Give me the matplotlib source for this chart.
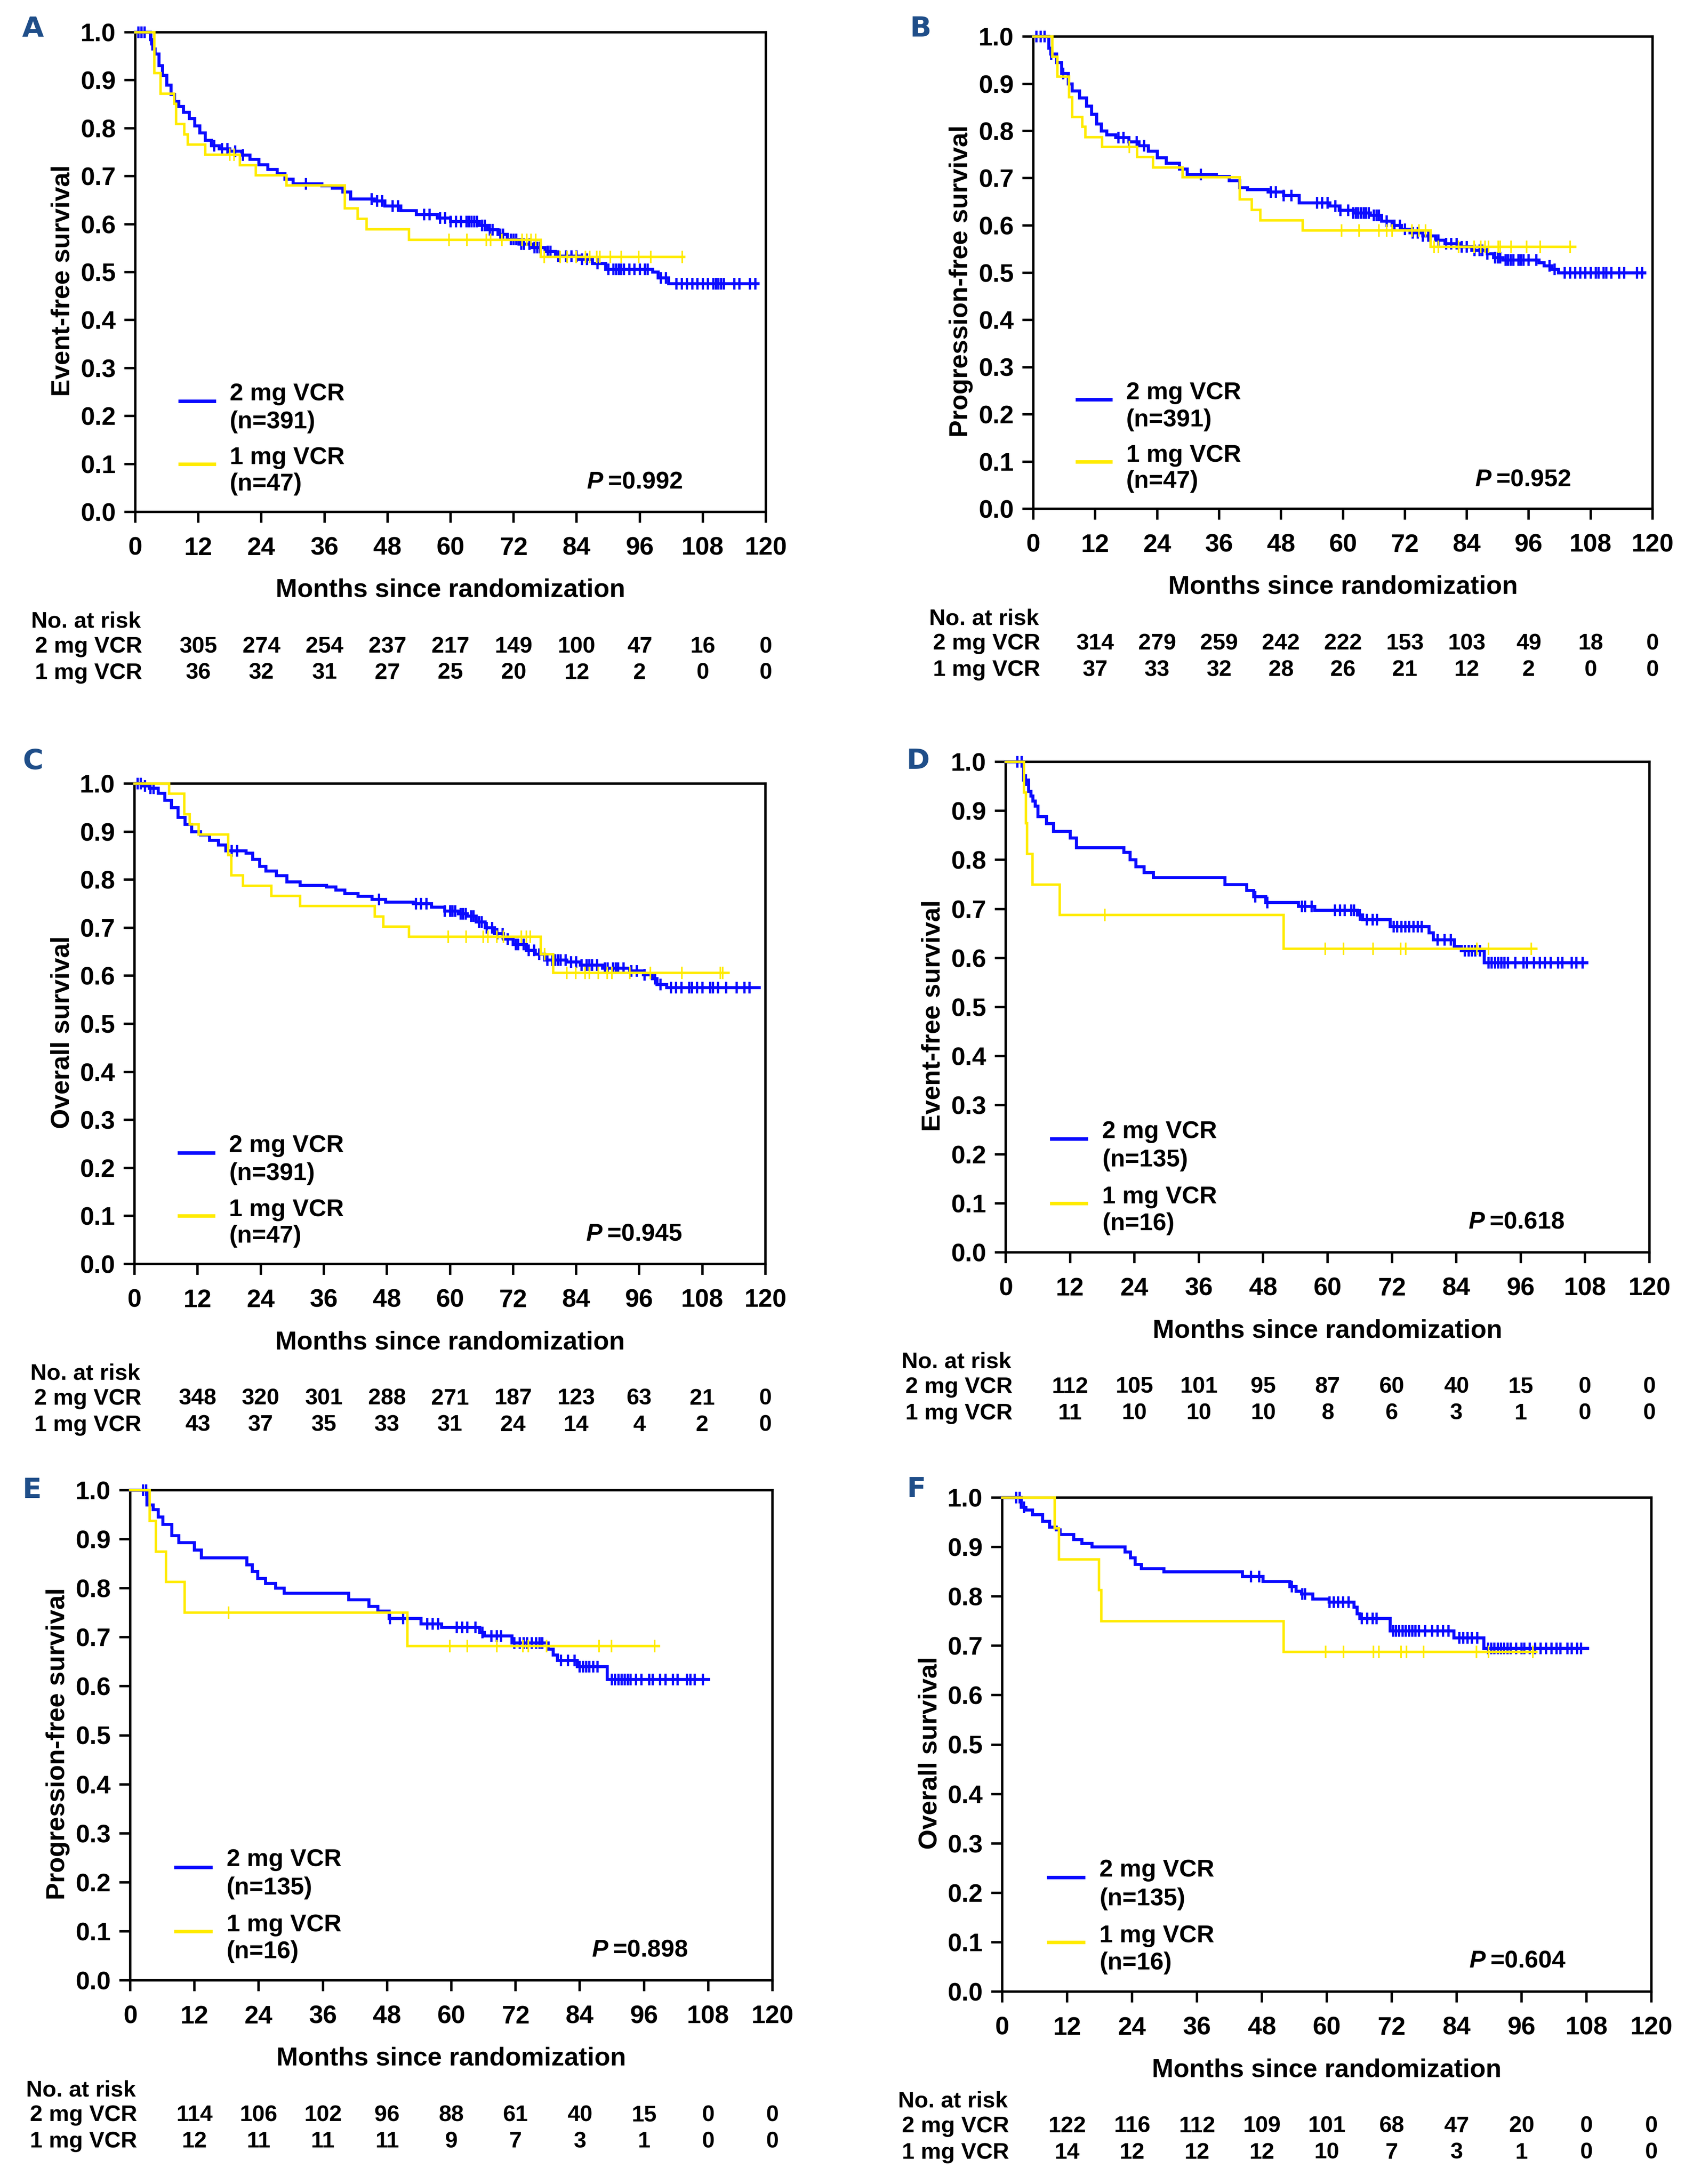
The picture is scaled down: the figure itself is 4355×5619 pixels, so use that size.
import numpy as np
import matplotlib
matplotlib.use("Agg")
import matplotlib.pyplot as plt
from matplotlib.transforms import blended_transform_factory

plt.rcParams['font.family'] = ['Liberation Sans', 'DejaVu Sans']
plt.rcParams['font.weight'] = 'bold'
plt.rcParams['mathtext.fontset'] = 'custom'
plt.rcParams['mathtext.it'] = 'Liberation Sans:bold:italic'
plt.rcParams['mathtext.rm'] = 'Liberation Sans:bold'

# ---------------- data ----------------
risk_times = [12, 24, 36, 48, 60, 72, 84, 96, 108, 120]

# Panel A : event-free survival, all patients
A_blue_t = [0, 2.9, 3.3, 3.8, 4.5, 5.2, 6.0, 6.8, 7.5, 8.3, 9.2, 10.3, 11.3, 12.3, 13.3, 14.5, 16.0, 18.0,
            20.3, 21.8, 23.5, 25.2, 27.0, 28.5, 30.0, 35.5, 37.5, 39.5, 41.0, 45.5, 47.5, 50.5, 53.5, 57.5,
            60.0, 65.5, 67.0, 69.0, 70.8, 73.0, 75.5, 78.0, 80.0, 84.5, 87.0, 89.5, 98.5, 99.5, 101.5]
A_blue_s = [1.0, 0.985, 0.965, 0.955, 0.93, 0.91, 0.89, 0.87, 0.856, 0.845, 0.833, 0.82, 0.805, 0.79, 0.775,
            0.763, 0.757, 0.752, 0.744, 0.735, 0.724, 0.714, 0.705, 0.694, 0.684, 0.68, 0.675, 0.667, 0.652,
            0.648, 0.638, 0.628, 0.62, 0.613, 0.605, 0.597, 0.588, 0.579, 0.568, 0.558, 0.551, 0.543, 0.533,
            0.527, 0.518, 0.506, 0.5, 0.488, 0.476]
A_blue_end = 118.5
A_blue_cens = [0.6, 1.2, 1.8, 3.0, 3.6, 15, 16.5, 17.5, 19, 20.5, 32.5, 45, 46, 47, 49, 50, 55, 56, 58, 59, 60,
               61, 62, 63, 63.5, 64, 64.5, 65, 66, 66.5, 67.5, 68, 69.5, 70, 71.5, 72, 72.5, 73.5, 74, 75, 76,
               76.5, 77, 78.5, 79, 80.5, 82, 83, 84, 85, 86, 88, 90, 91, 91.5, 92, 92.5, 93, 94, 95, 96, 97,
               97.5, 100, 101, 103, 104, 105, 106, 107, 108, 109, 110, 110.5, 111, 111.5, 112, 114, 115, 117, 118]
A_yel_t = [0, 3.6, 4.8, 7.4, 7.8, 9.3, 10.0, 13.3, 19.9, 22.9, 28.8, 39.9, 42.3, 44.0, 52.1, 77.2]
A_yel_s = [1.0, 0.915, 0.872, 0.851, 0.809, 0.787, 0.766, 0.745, 0.723, 0.702, 0.681, 0.633, 0.611, 0.589,
           0.567, 0.532]
A_yel_end = 104.5
A_yel_cens = [18.0, 18.8, 59.7, 63.1, 66.8, 67.6, 69.8, 73.6, 74.5, 75.3, 76.2, 77.8, 80.9, 82.2, 83.9, 85.7,
              86.5, 87.8, 88.4, 90.4, 92.5, 95.8, 98.1, 104.1]
A_risk_2mg = [305, 274, 254, 237, 217, 149, 100, 47, 16, 0]
A_risk_1mg = [36, 32, 31, 27, 25, 20, 12, 2, 0, 0]

# Panel B : progression-free survival, all patients
B_blue_t = [0, 3.0, 3.4, 4.5, 5.5, 6.8, 7.5, 9.0, 10.3, 11.3, 12.3, 13.2, 14.2, 16.0, 18.5, 20.5, 22.3, 24.0,
            25.8, 28.3, 29.8, 35.5, 38.0, 40.0, 41.5, 45.5, 48.5, 51.5, 57.5, 59.3, 62.0, 65.3, 67.5, 69.5,
            71.3, 73.0, 75.5, 78.0, 79.8, 82.8, 85.0, 88.0, 89.2, 91.0, 98.0, 99.0, 100.5, 101.8]
B_blue_s = [1.0, 0.975, 0.963, 0.945, 0.922, 0.9, 0.885, 0.87, 0.853, 0.835, 0.815, 0.8, 0.792, 0.786, 0.777,
            0.769, 0.757, 0.743, 0.732, 0.719, 0.708, 0.704, 0.695, 0.68, 0.676, 0.671, 0.663, 0.648, 0.641,
            0.632, 0.626, 0.621, 0.609, 0.6, 0.592, 0.584, 0.578, 0.569, 0.561, 0.555, 0.547, 0.54, 0.532,
            0.527, 0.521, 0.514, 0.507, 0.5]
B_blue_end = 118.5
B_blue_cens = [0.6, 1.4, 2.2, 3.5, 5.8, 16.5, 17.5, 18.5, 20, 21.5, 32.5, 46, 47, 48.5, 50, 55, 56, 57, 58.5,
               59.5, 61, 62, 62.5, 63, 63.5, 64, 64.5, 65, 66, 66.5, 67, 68.5, 70, 71, 72, 73.5, 74.5, 75.5,
               76.5, 77, 78.5, 80, 81, 82, 83, 84, 85.5, 86.5, 87, 88, 89.5, 90, 90.5, 91.5, 92, 92.5, 93, 94,
               94.5, 95, 96, 97.5, 100, 101, 103, 104, 105, 106, 107, 108, 109, 109.5, 110.5, 111, 112, 113.5,
               114.5, 117, 118]
B_yel_t = [0, 3.7, 4.7, 6.9, 7.5, 9.5, 10.1, 13.3, 20.1, 23.2, 28.9, 40.0, 42.3, 44.0, 52.2, 77.0]
B_yel_s = [1.0, 0.957, 0.915, 0.872, 0.83, 0.809, 0.787, 0.766, 0.745, 0.723, 0.702, 0.655, 0.633, 0.611,
           0.589, 0.555]
B_yel_end = 105.0
B_yel_cens = [18.6, 59.7, 63.1, 67.0, 68.5, 69.5, 73.4, 74.7, 76.0, 77.7, 78.5, 82.4, 85.4, 86.7, 87.5, 88.2,
              90.1, 90.5, 92.6, 95.6, 98.2, 104.0]
B_risk_2mg = [314, 279, 259, 242, 222, 153, 103, 49, 18, 0]
B_risk_1mg = [37, 33, 32, 28, 26, 21, 12, 2, 0, 0]

# Panel C : overall survival, all patients
C_blue_t = [0, 1.5, 2.8, 4.5, 5.8, 7.0, 8.3, 9.6, 10.9, 12.6, 14.3, 16.0, 17.4, 21.2, 22.5, 23.8, 25.0, 27.0,
            29.0, 31.5, 36.5, 38.3, 40.0, 42.5, 45.2, 47.8, 53.0, 56.5, 59.0, 61.6, 63.3, 65.0, 66.7, 68.5,
            70.2, 72.0, 74.5, 76.2, 78.0, 82.2, 84.8, 89.0, 94.2, 96.8, 98.5, 99.4, 101.2]
C_blue_s = [1.0, 0.995, 0.99, 0.98, 0.965, 0.95, 0.93, 0.915, 0.9, 0.893, 0.882, 0.872, 0.86, 0.855, 0.842,
            0.828, 0.818, 0.808, 0.795, 0.788, 0.785, 0.778, 0.771, 0.765, 0.759, 0.753, 0.75, 0.743, 0.735,
            0.729, 0.724, 0.712, 0.7, 0.688, 0.676, 0.665, 0.653, 0.645, 0.633, 0.629, 0.622, 0.616, 0.61,
            0.602, 0.594, 0.582, 0.575]
C_blue_end = 118.8
C_blue_cens = [0.6, 1.2, 2.0, 3.0, 3.6, 18.5, 19.5, 46.5, 53.5, 54.5, 55.5, 59, 60, 60.5, 61, 62, 62.5, 63, 64,
               64.5, 65.5, 66, 67, 68, 69, 70, 71, 72.5, 73, 74, 75, 76, 77, 78.5, 79.5, 80, 80.5, 81, 82, 83,
               84, 85, 86, 86.5, 87, 88, 89.5, 90, 91, 91.5, 92, 93, 94.5, 95.5, 97, 99, 100, 102, 103, 104,
               105.5, 106, 107, 108, 109.5, 110, 111, 112.5, 114.5, 116, 117]
C_yel_t = [0, 6.6, 9.5, 10.5, 12.2, 17.8, 18.4, 20.6, 26.0, 31.5, 45.7, 47.3, 52.2, 77.3, 79.6]
C_yel_s = [1.0, 0.979, 0.936, 0.915, 0.894, 0.851, 0.809, 0.787, 0.766, 0.745, 0.723, 0.702, 0.681, 0.645,
           0.606]
C_yel_end = 113.0
C_yel_cens = [59.7, 63.1, 66.3, 67.2, 68.9, 70.2, 73.6, 74.5, 75.3, 78.0, 82.2, 83.9, 85.7, 86.5, 88.2, 89.9,
              90.8, 94.2, 98.1, 104.1, 111.4, 111.9]
C_risk_2mg = [348, 320, 301, 288, 271, 187, 123, 63, 21, 0]
C_risk_1mg = [43, 37, 35, 33, 31, 24, 14, 4, 2, 0]

# Panel D : event-free survival, subgroup
D_blue_t = [0, 3.3, 4.3, 4.7, 5.1, 5.5, 6.0, 7.6, 8.9, 12.0, 13.2, 22.0, 23.2, 24.3, 25.8, 27.5, 40.9, 44.9,
            46.2, 48.5, 54.6, 57.6, 65.6, 66.5, 71.7, 78.9, 79.7, 83.6, 84.9, 89.2]
D_blue_s = [1.0, 0.963, 0.94, 0.93, 0.92, 0.91, 0.888, 0.874, 0.858, 0.845, 0.825, 0.815, 0.8, 0.786, 0.774,
            0.764, 0.75, 0.738, 0.725, 0.713, 0.705, 0.697, 0.688, 0.678, 0.664, 0.651, 0.637, 0.624, 0.615,
            0.59]
D_blue_end = 108.3
D_blue_cens = [2.2, 3.0, 3.8, 46.5, 48.8, 55.2, 55.8, 57.0, 61.4, 62.3, 63.2, 64.4, 64.9, 66.0, 67.3, 68.4,
               69.2, 72.3, 73.0, 73.8, 74.5, 75.2, 76.0, 76.8, 77.5, 80.5, 81.8, 83.0, 85.6, 86.3, 86.9, 87.5,
               88.4, 90, 90.6, 91.2, 91.8, 92.4, 93, 93.6, 95.0, 96.5, 97.2, 98.5, 99.6, 100.5, 101.6, 103.0,
               103.8, 105.5, 106.4, 107.5]
D_yel_t = [0, 3.4, 3.8, 4.0, 5.0, 10.1, 51.8]
D_yel_s = [1.0, 0.9375, 0.875, 0.8125, 0.75, 0.6875, 0.619]
D_yel_end = 98.9
D_yel_cens = [18.5, 59.6, 63.0, 68.5, 73.6, 74.6, 87.8, 90.0, 98.0]
D_risk_2mg = [112, 105, 101, 95, 87, 60, 40, 15, 0, 0]
D_risk_1mg = [11, 10, 10, 10, 8, 6, 3, 1, 0, 0]

# Panel E : progression-free survival, subgroup
E_blue_t = [0, 3.1, 4.3, 5.2, 6.1, 7.8, 9.1, 12.0, 13.3, 21.8, 22.8, 23.8, 25.3, 27.2, 28.8, 40.8, 44.6, 46.3,
            48.4, 54.3, 58.2, 65.3, 66.2, 71.3, 78.1, 79.0, 79.8, 83.5, 89.1]
E_blue_s = [1.0, 0.97, 0.96, 0.945, 0.93, 0.907, 0.893, 0.878, 0.862, 0.848, 0.834, 0.82, 0.81, 0.8, 0.79,
            0.776, 0.763, 0.753, 0.738, 0.727, 0.72, 0.71, 0.703, 0.688, 0.676, 0.664, 0.653, 0.64, 0.614]
E_blue_end = 108.1
E_blue_cens = [2.4, 3.0, 3.6, 48.5, 51.0, 55.5, 56.5, 57.5, 61, 62, 63, 64.5, 65.8, 67.5, 68.5, 69.3, 71.8,
               72.8, 73.5, 74.2, 75, 75.8, 76.5, 77.0, 80.5, 81.8, 83.0, 84.0, 84.6, 85.2, 85.8, 86.5, 87.3,
               90, 90.6, 91.2, 91.8, 92.4, 93, 93.5, 94.5, 95.5, 97, 97.6, 99.0, 100.0, 101.4, 102.3, 104.0,
               104.7, 105.5, 107.0]
E_yel_t = [0, 3.6, 4.8, 6.7, 10.2, 51.8]
E_yel_s = [1.0, 0.9375, 0.875, 0.8125, 0.75, 0.682]
E_yel_end = 98.8
E_yel_cens = [18.4, 59.7, 63.0, 68.5, 73.4, 74.4, 77.8, 87.6, 89.9, 98.0]
E_risk_2mg = [114, 106, 102, 96, 88, 61, 40, 15, 0, 0]
E_risk_1mg = [12, 11, 11, 11, 9, 7, 3, 1, 0, 0]

# Panel F : overall survival, subgroup
F_blue_t = [0, 3.5, 4.4, 5.6, 7.5, 8.8, 10.0, 10.7, 13.2, 14.7, 16.6, 22.7, 23.7, 24.6, 25.7, 29.9, 44.4,
            48.2, 53.2, 54.3, 55.3, 57.4, 60.4, 65.0, 65.6, 66.1, 71.7, 83.5, 89.0]
F_blue_s = [1.0, 0.98, 0.975, 0.965, 0.952, 0.94, 0.935, 0.925, 0.915, 0.907, 0.9, 0.89, 0.878, 0.865, 0.856,
            0.85, 0.84, 0.83, 0.82, 0.81, 0.805, 0.795, 0.788, 0.778, 0.765, 0.755, 0.73, 0.716, 0.695]
F_blue_end = 108.2
F_blue_cens = [2.6, 3.2, 4.0, 46.0, 47.5, 53.5, 55.5, 56.0, 60.5, 61.3, 62.1, 63.0, 64.0, 66.5, 67.5, 68.5,
               69.2, 72.3, 72.8, 73.4, 74.0, 74.6, 75.2, 75.8, 76.4, 77.0, 78.2, 79.5, 80.5, 81.5, 82.5, 84.5,
               85.2, 86.0, 86.8, 87.8, 89.8, 90.4, 91.0, 91.6, 92.2, 92.8, 93.4, 94.0, 95.0, 96.0, 96.5, 97.5,
               98.5, 99.5, 100.5, 101.5, 102.5, 103.2, 104.5, 105.3, 106.3, 107.0]
F_yel_t = [0, 9.7, 10.5, 17.9, 18.3, 52.0]
F_yel_s = [1.0, 0.9375, 0.875, 0.8125, 0.75, 0.6875]
F_yel_end = 98.7
F_yel_cens = [59.8, 63.1, 68.6, 69.6, 73.7, 74.7, 77.9, 87.7, 89.9, 98.1]
F_risk_2mg = [122, 116, 112, 109, 101, 68, 47, 20, 0, 0]
F_risk_1mg = [14, 12, 12, 12, 10, 7, 3, 1, 0, 0]

panel_letters = ['A', 'B', 'C', 'D', 'E', 'F']
ylabels = ['Event-free survival', 'Progression-free survival', 'Overall survival',
           'Event-free survival', 'Progression-free survival', 'Overall survival']
n_2mg = [391, 391, 391, 135, 135, 135]
n_1mg = [47, 47, 47, 16, 16, 16]
p_values = ['0.992', '0.952', '0.945', '0.618', '0.898', '0.604']

blue_series = [(A_blue_t, A_blue_s, A_blue_end, A_blue_cens), (B_blue_t, B_blue_s, B_blue_end, B_blue_cens),
               (C_blue_t, C_blue_s, C_blue_end, C_blue_cens), (D_blue_t, D_blue_s, D_blue_end, D_blue_cens),
               (E_blue_t, E_blue_s, E_blue_end, E_blue_cens), (F_blue_t, F_blue_s, F_blue_end, F_blue_cens)]
yel_series = [(A_yel_t, A_yel_s, A_yel_end, A_yel_cens), (B_yel_t, B_yel_s, B_yel_end, B_yel_cens),
              (C_yel_t, C_yel_s, C_yel_end, C_yel_cens), (D_yel_t, D_yel_s, D_yel_end, D_yel_cens),
              (E_yel_t, E_yel_s, E_yel_end, E_yel_cens), (F_yel_t, F_yel_s, F_yel_end, F_yel_cens)]
risk_2mg = [A_risk_2mg, B_risk_2mg, C_risk_2mg, D_risk_2mg, E_risk_2mg, F_risk_2mg]
risk_1mg = [A_risk_1mg, B_risk_1mg, C_risk_1mg, D_risk_1mg, E_risk_1mg, F_risk_1mg]

# ---------------- layout (pixels) ----------------
W, H = 4355, 5619
boxes = [(348, 1970, 83, 1317), (2658, 4251, 94, 1309),
         (346, 1969, 2016, 3252), (2587, 4243, 1960, 3222),
         (335, 1987, 3834, 5095), (2578, 4248, 3853, 5124)]
letter_pos = [(85, 75), (2368, 75), (85, 1959), (2361, 1959), (82, 3835), (2357, 3833)]

BLUE = '#0a0aff'
YELLOW = '#ffeb00'
LETTER = '#1f4e89'

fig = plt.figure(figsize=(W / 100, H / 100), dpi=100)


def fx(x):
    return x / W


def fy(y):
    return 1 - y / H


def draw_km(ax, t, s, end, cens, color, lw, ms, mew, z):
    tt = np.append(np.array(t, float), end)
    ss = np.append(np.array(s, float), s[-1])
    ax.step(tt, ss, where='post', color=color, lw=lw, zorder=z, clip_on=False, solid_joinstyle='miter')
    c = np.array(cens, float)
    idx = np.searchsorted(np.array(t, float), c, side='right') - 1
    cy = np.array(s, float)[idx]
    ax.plot(c, cy, linestyle='none', marker='|', ms=ms, mew=mew, color=color, zorder=z, clip_on=False)


for i in range(6):
    L, R, T, B = boxes[i]
    ax = fig.add_axes([fx(L), fy(B), (R - L) / W, (B - T) / H])
    ax.set_xlim(0, 120)
    ax.set_ylim(0, 1)
    for sp in ax.spines.values():
        sp.set_linewidth(4.5)
    ax.set_xticks(range(0, 121, 12))
    ax.set_yticks(np.arange(0, 1.01, 0.1))
    ax.set_yticklabels([f'{v:.1f}' for v in np.arange(0, 1.01, 0.1)])
    ax.tick_params(axis='both', direction='out', length=20, width=4.5, labelsize=47)
    ax.tick_params(axis='x', pad=26)
    ax.tick_params(axis='y', pad=16)
    for lab in ax.get_xticklabels() + ax.get_yticklabels():
        lab.set_fontweight('bold')

    bt, bs, bend, bc = blue_series[i]
    yt, ys, yend, yc = yel_series[i]
    draw_km(ax, bt, bs, bend, bc, BLUE, 5.6, 21, 4.2, 3)
    draw_km(ax, yt, ys, yend, yc, YELLOW, 4.6, 23, 3.0, 4)

    # legend
    ax.plot([0.071, 0.125], [0.231, 0.231], transform=ax.transAxes, color=BLUE, lw=6.5, clip_on=False)
    ax.plot([0.071, 0.125], [0.100, 0.100], transform=ax.transAxes, color=YELLOW, lw=6.5, clip_on=False)
    ax.text(0.150, 0.246, '2 mg VCR', transform=ax.transAxes, fontsize=45, fontweight='bold', va='center')
    ax.text(0.150, 0.188, f'(n={n_2mg[i]})', transform=ax.transAxes, fontsize=45, fontweight='bold', va='center')
    ax.text(0.150, 0.113, '1 mg VCR', transform=ax.transAxes, fontsize=45, fontweight='bold', va='center')
    ax.text(0.150, 0.058, f'(n={n_1mg[i]})', transform=ax.transAxes, fontsize=45, fontweight='bold', va='center')
    ax.text(0.868, 0.062, r'$P$' + '\u2009=' + p_values[i], transform=ax.transAxes, fontsize=45,
            fontweight='bold', va='center', ha='right')

    # axis labels
    fig.text(fx((L + R) / 2), fy(B + 202), 'Months since randomization', fontsize=48, fontweight='bold',
             ha='center', va='center')
    fig.text(fx(L - 186), fy((T + B) / 2 + 22), ylabels[i], fontsize=48, fontweight='bold',
             ha='center', va='center', rotation=90)

    # panel letter
    lx, ly = letter_pos[i]
    fig.text(fx(lx), fy(ly), panel_letters[i], fontsize=52, fontweight='bold', color=LETTER,
             family='DejaVu Sans', ha='center', va='center')

    # numbers at risk
    fig.text(fx(L - 268), fy(B + 283), 'No. at risk', fontsize=42, fontweight='bold', ha='left', va='center')
    fig.text(fx(L - 258), fy(B + 347), '2 mg VCR', fontsize=42, fontweight='bold', ha='left', va='center')
    fig.text(fx(L - 258), fy(B + 415), '1 mg VCR', fontsize=42, fontweight='bold', ha='left', va='center')
    trans = blended_transform_factory(ax.transData, fig.transFigure)
    for tm, v2, v1 in zip(risk_times, risk_2mg[i], risk_1mg[i]):
        ax.text(tm, fy(B + 347), str(v2), transform=trans, fontsize=42, fontweight='bold',
                ha='center', va='center', clip_on=False)
        ax.text(tm, fy(B + 415), str(v1), transform=trans, fontsize=42, fontweight='bold',
                ha='center', va='center', clip_on=False)

fig.savefig('out.png', dpi=100, facecolor='white')
